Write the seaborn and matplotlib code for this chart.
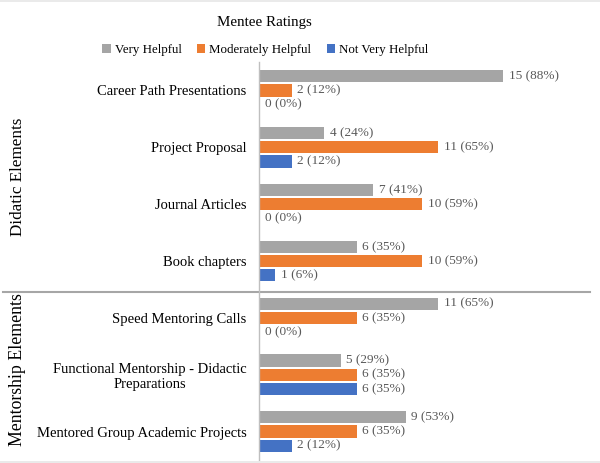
import numpy as np
import matplotlib
matplotlib.use('Agg')
import matplotlib.pyplot as plt
import matplotlib.transforms as mtransforms
from matplotlib.lines import Line2D
import pandas as pd
import seaborn as sns

# chart data
items = ['Career Path Presentations', 'Project Proposal', 'Journal Articles',
         'Book chapters', 'Speed Mentoring Calls',
         'Functional Mentorship - Didactic\nPreparations',
         'Mentored Group Academic Projects']
ratings = ['Very Helpful', 'Moderately Helpful', 'Not Very Helpful']
very_helpful = [15, 4, 7, 6, 11, 5, 9]
moderately_helpful = [2, 11, 10, 10, 6, 6, 6]
not_very_helpful = [0, 2, 0, 1, 0, 6, 2]
very_pct = [88, 24, 41, 35, 65, 29, 53]
moderately_pct = [12, 65, 59, 59, 35, 35, 35]
not_very_pct = [0, 12, 0, 6, 0, 35, 12]
groups = ['Didatic Elements', 'Mentorship Elements']
colors = ['#A5A5A5', '#ED7D31', '#4472C4']

# long format for seaborn
df = pd.DataFrame({
    'item': items * 3,
    'rating': np.repeat(ratings, len(items)),
    'count': very_helpful + moderately_helpful + not_very_helpful,
})
pcts = [very_pct, moderately_pct, not_very_pct]
counts = [very_helpful, moderately_helpful, not_very_helpful]

plt.rcParams['font.family'] = ['Liberation Serif', 'DejaVu Serif']

fig = plt.figure(figsize=(6, 4.63), dpi=100)
ax = fig.add_axes([0.432, 0.0065, 0.551, 0.8595])

sns.barplot(data=df, y='item', x='count', hue='rating', order=items,
            hue_order=ratings, palette=colors, orient='h', width=0.75,
            gap=0.14, saturation=1, ax=ax, legend=True)

# value labels
for cont, c, p in zip(ax.containers, counts, pcts):
    ax.bar_label(cont, labels=[f'{a} ({b}%)' for a, b in zip(c, p)],
                 padding=4, fontsize=9.5, color='#595959')

ax.set_xlabel('')
ax.set_ylabel('')
ax.set_xticks([])
ax.tick_params(axis='y', length=0, labelsize=10.5, pad=9, colors='#000000')
for lbl in ax.get_yticklabels():
    lbl.set_multialignment('center')
for s in ['top', 'right', 'bottom']:
    ax.spines[s].set_visible(False)
ax.spines['left'].set_color('#bfbfbf')
ax.spines['left'].set_linewidth(1)

# separator between the two groups
trans = mtransforms.blended_transform_factory(fig.transFigure, ax.transData)
ax.plot([0.005, 0.983], [3.55, 3.55], color='#a6a6a6', lw=1.5,
        transform=trans, clip_on=False, scalex=False, scaley=False)

ax.set_xlim(0, 20.3)
ax.set_ylim(len(items) - 0.5, -0.5)

# faint frame lines at top and bottom of the picture
fig.add_artist(Line2D([0, 1], [0.998, 0.998], color='#e6e6e6', lw=1.2))
fig.add_artist(Line2D([0, 1], [0.003, 0.003], color='#e6e6e6', lw=1.2))

# group labels
fig.text(0.03, 0.618, groups[0], rotation=90, ha='center', va='center',
         fontsize=12.3)
fig.text(0.03, 0.201, groups[1], rotation=90, ha='center', va='center',
         fontsize=12.8)

fig.text(0.44, 0.952, 'Mentee Ratings', ha='center', va='center', fontsize=10.8)

ax.legend(loc='center', bbox_to_anchor=(0.442, 0.892),
          bbox_transform=fig.transFigure, ncol=3, frameon=False,
          fontsize=9.3, handlelength=0.65, handleheight=0.65,
          handletextpad=0.3, columnspacing=1.2)

fig.savefig('out.png', dpi=100)
